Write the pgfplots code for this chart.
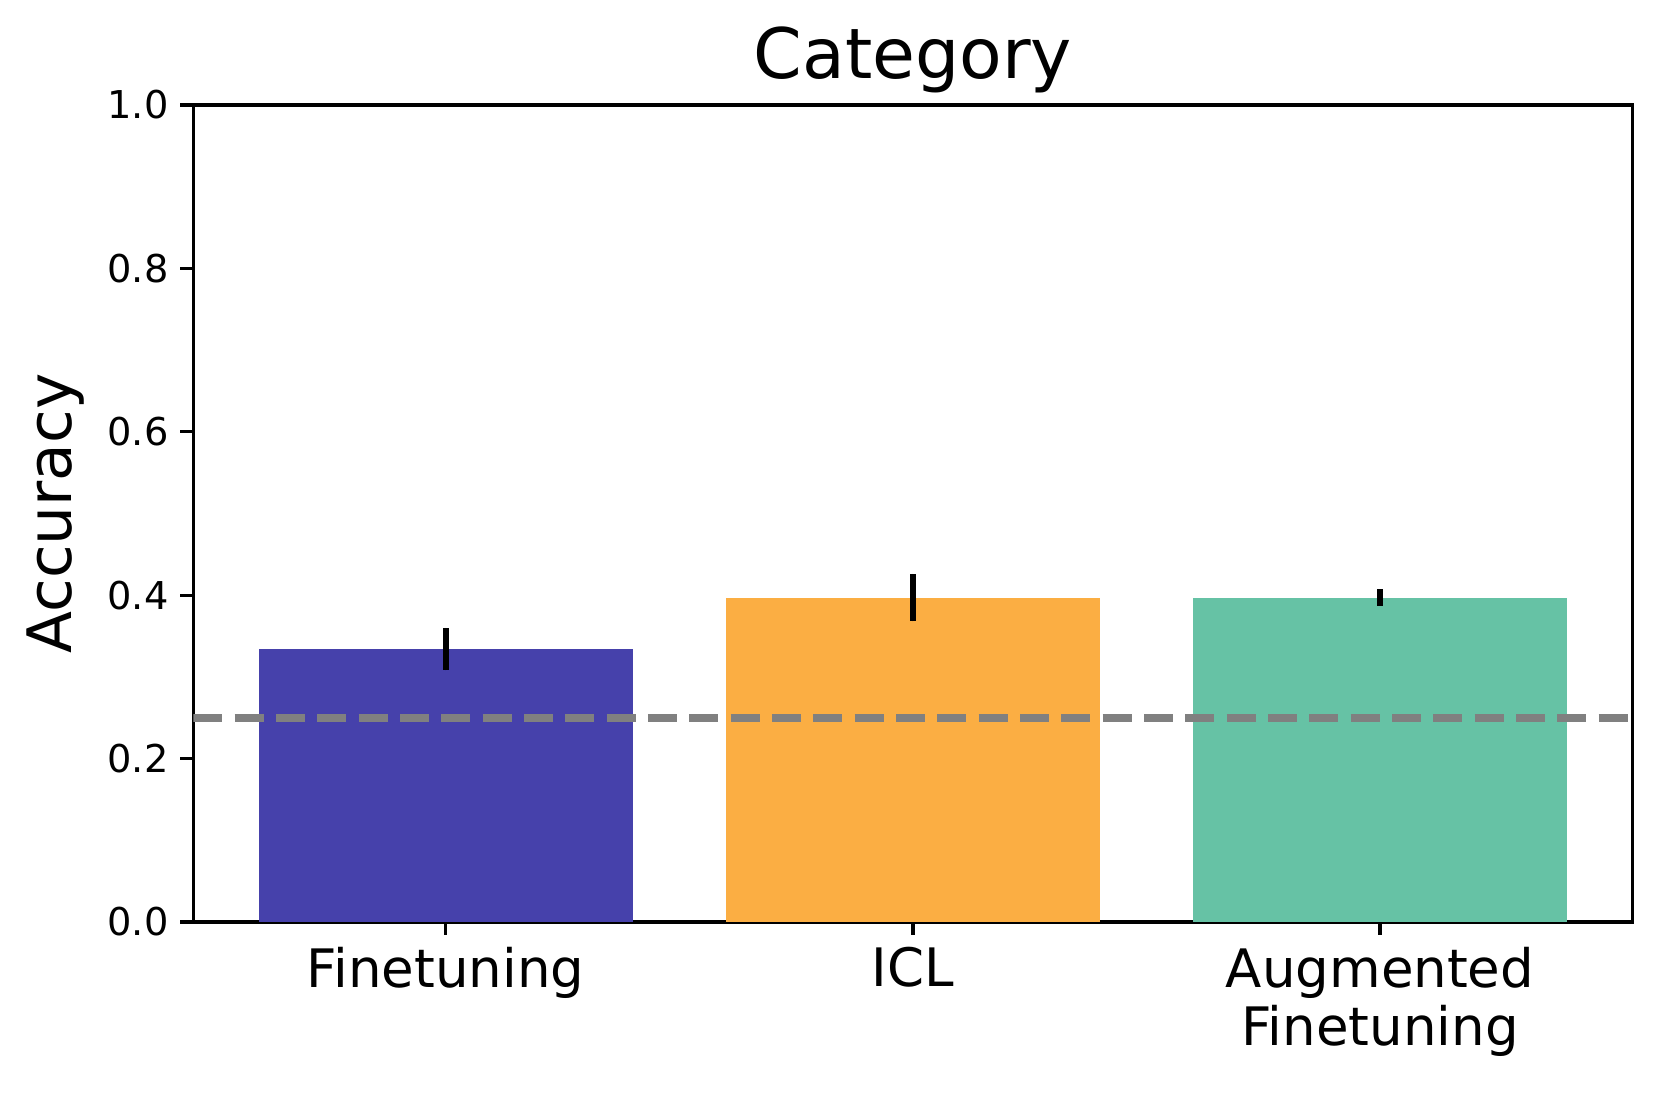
\documentclass[border=0pt]{standalone}
\usepackage{pgfplots}
\pgfplotsset{compat=1.18}
\usepackage{fontspec}
\setmainfont{DejaVu Sans}
\definecolor{cblue}{HTML}{4641AB}
\definecolor{corange}{HTML}{FBAE43}
\definecolor{cgreen}{HTML}{66C2A5}
\definecolor{cgray}{HTML}{808080}
\begin{document}
\begin{tikzpicture}
\begin{axis}[
  scale only axis, width=431.7pt, height=245.1pt,
  xmin=-0.54, xmax=2.54, ymin=0, ymax=1,
  xtick={0,1,2},
  xticklabels={Finetuning, ICL, {Augmented\\Finetuning}},
  xticklabel style={align=center, font=\fontsize{15.9}{17.5}\selectfont},
  ytick={0,0.2,0.4,0.6,0.8,1},
  yticklabel style={/pgf/number format/fixed, /pgf/number format/precision=1, /pgf/number format/fixed zerofill, font=\fontsize{11.5}{13}\selectfont},
  /pgf/number format/assume math mode=true,
  tick align=outside, major tick length=3.9pt,
  xtick pos=lower, ytick pos=left,
  axis line style={line width=1pt},
  major tick style={line width=1pt, black},
  ylabel={Accuracy}, ylabel style={font=\fontsize{18.4}{20}\selectfont},
  title={Category}, title style={font=\fontsize{20.9}{23}\selectfont, yshift=-6pt},
]
\addplot[ybar, bar width=0.8, bar shift=0pt, fill=cblue, draw=none,
  error bars/.cd, y dir=both, y explicit, error mark=none,
  error bar style={line width=1.8pt, black}]
  coordinates {(0,0.334) +- (0,0.026)};
\addplot[ybar, bar width=0.8, bar shift=0pt, fill=corange, draw=none,
  error bars/.cd, y dir=both, y explicit, error mark=none,
  error bar style={line width=1.8pt, black}]
  coordinates {(1,0.397) +- (0,0.029)};
\addplot[ybar, bar width=0.8, bar shift=0pt, fill=cgreen, draw=none,
  error bars/.cd, y dir=both, y explicit, error mark=none,
  error bar style={line width=1.8pt, black}]
  coordinates {(2,0.397) +- (0,0.010)};
\addplot[cgray, line width=2.3pt, dash pattern=on 8.7pt off 3.7pt, mark=none]
  coordinates {(-0.54,0.25) (2.54,0.25)};
\end{axis}
\pgfresetboundingbox
\path ([xshift=-58pt,yshift=-51.1pt]current axis.south west) rectangle ([xshift=8.6pt,yshift=31.5pt]current axis.north east);
\end{tikzpicture}
\end{document}
